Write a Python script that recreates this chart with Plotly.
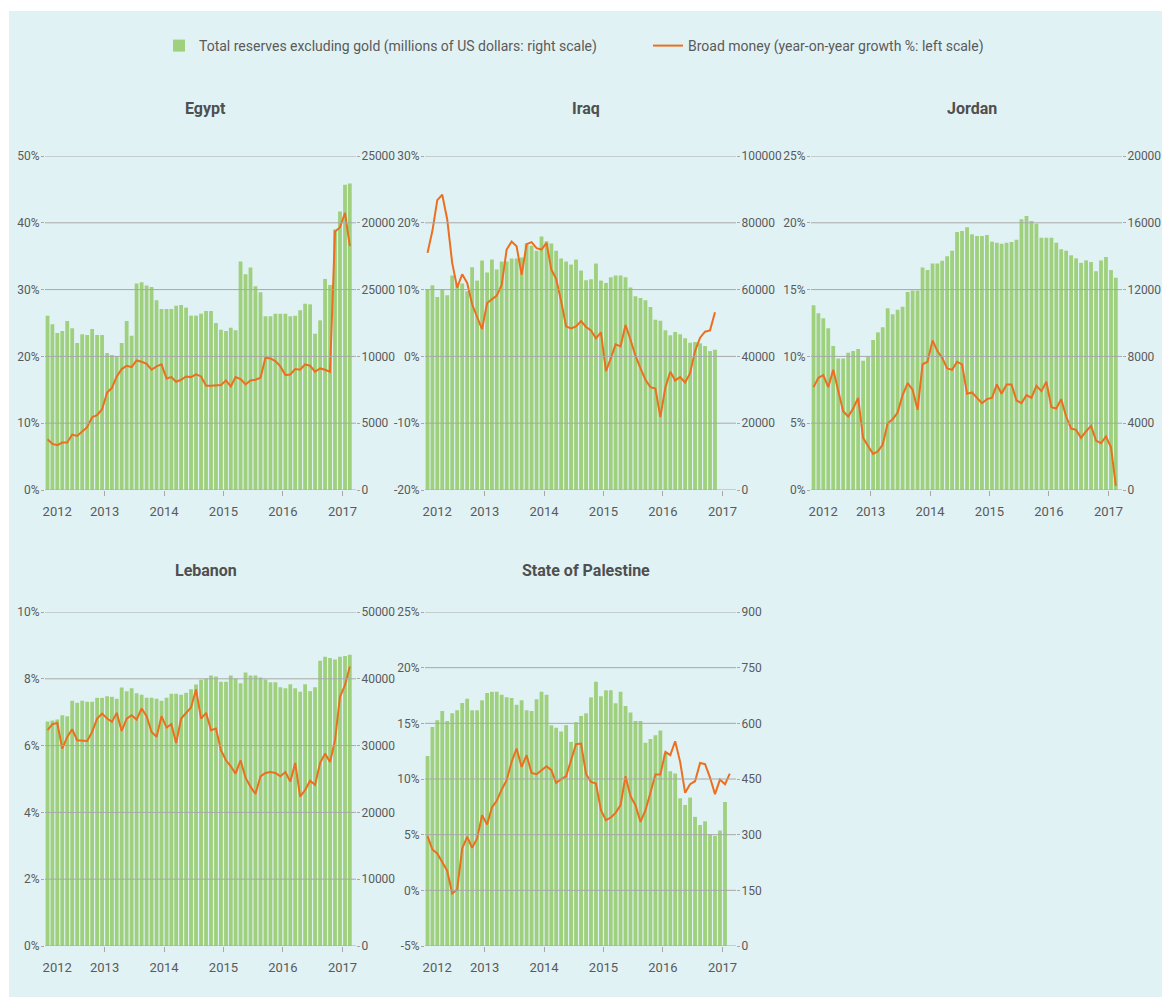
import pandas as pd
import plotly.graph_objects as go

# ---------------- data ----------------
months = [d.strftime("%Y-%m-%d") for d in pd.date_range("2012-01-01", periods=62, freq="MS")]
year_labels = ["2012", "2013", "2014", "2015", "2016", "2017"]

egypt_reserves = [13050, 12400, 11750, 11900, 12650, 12100, 11000, 11650, 11600, 12050, 11600, 11600,
                  10250, 10100, 10000, 11000, 12650, 11550, 15450, 15550, 15300, 15200, 14200, 13550,
                  13550, 13550, 13800, 13850, 13650, 13050, 13050, 13200, 13400, 13400, 12500, 12000,
                  11900, 12150, 11950, 17100, 16150, 16650, 15250, 14800, 13000, 13000, 13200, 13200,
                  13200, 13000, 13050, 13450, 13950, 13900, 11700, 12700, 15800, 15350, 19500, 20850,
                  22850, 22950]
egypt_money = [7.6, 6.9, 6.7, 7.1, 7.1, 8.3, 8.1, 8.7, 9.4, 10.9, 11.2, 12.1,
               14.6, 15.3, 17.0, 18.1, 18.6, 18.4, 19.4, 19.2, 18.9, 18.0, 18.5, 18.8,
               16.7, 16.9, 16.2, 16.5, 17.0, 16.9, 17.3, 17.0, 15.6, 15.6, 15.6, 15.7,
               16.4, 15.5, 16.9, 16.6, 15.8, 16.4, 16.5, 16.8, 19.8, 19.7, 19.3, 18.5,
               17.2, 17.3, 18.1, 18.0, 18.8, 18.6, 17.7, 18.2, 18.0, 17.7, 38.7, 39.3,
               41.5, 36.5]

iraq_reserves = [60100, 61300, 57800, 60000, 58300, 64200, 62000, 61800, 59500, 66700, 62700, 68700,
                 65100, 69000, 66000, 68400, 68400, 69300, 69300, 69600, 73800, 73100, 71600, 75900,
                 74500, 73800, 71600, 69300, 68400, 67500, 69000, 65700, 62800, 63100, 67800, 62700,
                 62000, 63700, 64200, 64200, 63700, 60600, 58000, 57500, 56800, 54800, 51000, 50700,
                 47800, 46300, 47300, 46600, 45400, 44100, 44300, 43900, 43100, 41600, 42000]
iraq_money = [15.5, 18.8, 23.4, 24.2, 20.5, 14.0, 10.3, 12.3, 11.0, 7.8, 5.9, 4.1,
              8.0, 8.6, 9.1, 10.7, 16.0, 17.2, 16.5, 12.2, 16.8, 17.1, 16.2, 16.0,
              17.0, 13.0, 11.6, 8.3, 4.5, 4.2, 4.5, 5.3, 4.4, 3.9, 2.7, 3.6,
              -2.2, -0.3, 1.8, 1.5, 4.7, 2.5, 0.1, -1.8, -3.5, -4.6, -4.8, -9.1,
              -4.6, -2.3, -3.6, -3.1, -3.9, -2.5, 0.8, 2.8, 3.7, 3.9, 6.6]

jordan_reserves = [11060, 10580, 10280, 9680, 8620, 7880, 7880, 8220, 8320, 8440, 7740, 7980,
                   8980, 9440, 9740, 10880, 10520, 10800, 10980, 11860, 11940, 11940, 13330, 13170,
                   13570, 13570, 13730, 13990, 14330, 15450, 15510, 15730, 15310, 15210, 15210, 15270,
                   14870, 14810, 14750, 14810, 14850, 14990, 16210, 16410, 16110, 15950, 15110, 15110,
                   15110, 14810, 14410, 14330, 14050, 13870, 13600, 13750, 13650, 13100, 13750, 13950,
                   13170, 12710]
jordan_money = [7.7, 8.4, 8.6, 7.7, 9.0, 7.5, 5.9, 5.5, 6.1, 6.9, 3.9, 3.3,
                2.7, 2.9, 3.4, 5.0, 5.3, 5.8, 7.1, 8.0, 7.5, 6.0, 9.4, 9.6,
                11.2, 10.4, 9.9, 9.1, 9.0, 9.6, 9.4, 7.2, 7.3, 6.9, 6.5, 6.8,
                6.9, 7.9, 7.2, 7.9, 7.9, 6.7, 6.5, 7.1, 6.9, 7.8, 7.4, 8.1,
                6.2, 6.1, 6.8, 5.5, 4.6, 4.5, 3.9, 4.4, 4.8, 3.7, 3.5, 4.0,
                3.2, 0.3]

lebanon_reserves = [33600, 33750, 33900, 34550, 34400, 36700, 36400, 36700, 36550, 36550, 37150, 37150,
                    37400, 37300, 37000, 38700, 38150, 38600, 37850, 37600, 37150, 37150, 37000, 36700,
                    37150, 37750, 37750, 37600, 37900, 38450, 39150, 39850, 40050, 40500, 40350, 39550,
                    39550, 40500, 40050, 39350, 40950, 40500, 40500, 40200, 39900, 39500, 39500, 38750,
                    38600, 39200, 38600, 38050, 39200, 38150, 38750, 42700, 43300, 43100, 42900, 43300,
                    43400, 43600]
lebanon_money = [6.46, 6.64, 6.68, 5.91, 6.26, 6.49, 6.16, 6.16, 6.14, 6.41, 6.81, 6.96,
                 6.81, 6.71, 6.98, 6.44, 6.81, 6.91, 6.78, 7.11, 6.88, 6.41, 6.26, 6.88,
                 6.54, 6.64, 6.08, 6.81, 6.96, 7.14, 7.68, 6.81, 6.98, 6.46, 6.51, 5.86,
                 5.56, 5.38, 5.16, 5.56, 5.04, 4.77, 4.55, 5.08, 5.18, 5.21, 5.18, 5.08,
                 5.21, 4.92, 5.48, 4.47, 4.67, 4.95, 4.82, 5.48, 5.76, 5.51, 6.16, 7.46,
                 7.81, 8.37]

palestine_reserves = [512, 590, 608, 633, 606, 627, 635, 655, 666, 635, 635, 662,
                      682, 685, 685, 677, 670, 668, 650, 662, 635, 633, 665, 685,
                      677, 595, 588, 578, 595, 550, 603, 620, 627, 670, 712, 673,
                      689, 689, 654, 685, 647, 629, 606, 606, 548, 558, 568, 581,
                      519, 471, 465, 398, 380, 400, 348, 326, 336, 301, 297, 311,
                      388]
palestine_money = [4.87, 3.67, 3.31, 2.56, 1.76, -0.28, 0.08, 3.76, 4.81, 3.82, 4.66, 6.75,
                   5.92, 7.44, 8.04, 9.06, 9.89, 11.54, 12.74, 11.09, 12.14, 10.55, 10.43, 10.79,
                   11.15, 10.79, 9.65, 9.98, 10.25, 11.69, 13.12, 13.18, 10.43, 9.74, 9.59, 7.20,
                   6.30, 6.54, 6.96, 7.65, 10.25, 8.46, 7.65, 6.15, 7.20, 8.76, 10.40, 10.40,
                   12.44, 12.14, 13.39, 11.54, 8.76, 9.53, 9.80, 11.45, 11.33, 10.13, 8.64, 9.95,
                   9.53, 10.49]

# ---------------- style / layout ----------------
W, H = 1162, 997
BG = "#e1f2f5"
GREEN = "#9fd07d"
ORANGE = "#ec6f20"
GRID = "#a8a8a8"
TXT = "#5a5a5a"
FONT = "Roboto, Liberation Sans, sans-serif"


def px_x(v):
    return v / W


def px_y(v):
    return 1 - v / H


ROW1 = (156, 490)
ROW2 = (612, 946)
COL1 = (45, 356)
COL2 = (425, 736)
COL3 = (811, 1122)

panels = [
    dict(name="Egypt", res=egypt_reserves, mon=egypt_money,
         lrange=[0, 50], ltick=[0, 10, 20, 30, 40, 50],
         rrange=[0, 25000], rtick=[0, 5000, 10000, 15000, 20000, 25000],
         rtext=["0", "5000", "10000", "25000", "20000", "25000"],
         col=COL1, row=ROW1, title_y=108),
    dict(name="Iraq", res=iraq_reserves, mon=iraq_money,
         lrange=[-20, 30], ltick=[-20, -10, 0, 10, 20, 30],
         rrange=[0, 100000], rtick=[0, 20000, 40000, 60000, 80000, 100000], rtext=None,
         col=COL2, row=ROW1, title_y=108),
    dict(name="Jordan", res=jordan_reserves, mon=jordan_money,
         lrange=[0, 25], ltick=[0, 5, 10, 15, 20, 25],
         rrange=[0, 20000], rtick=[0, 4000, 8000, 12000, 16000, 20000], rtext=None,
         col=COL3, row=ROW1, title_y=108),
    dict(name="Lebanon", res=lebanon_reserves, mon=lebanon_money,
         lrange=[0, 10], ltick=[0, 2, 4, 6, 8, 10],
         rrange=[0, 50000], rtick=[0, 10000, 20000, 30000, 40000, 50000], rtext=None,
         col=COL1, row=ROW2, title_y=570),
    dict(name="State of Palestine", res=palestine_reserves, mon=palestine_money,
         lrange=[-5, 25], ltick=[-5, 0, 5, 10, 15, 20, 25],
         rrange=[0, 900], rtick=[0, 150, 300, 450, 600, 750, 900], rtext=None,
         col=COL2, row=ROW2, title_y=570),
]

x_range = ["2012-01-01", "2017-03-25"]
year_ticks = ["2012-03-16", "2013-01-01", "2014-01-01", "2015-01-01", "2016-01-01", "2017-01-01"]
year_bounds = ["2013-01-01", "2014-01-01", "2015-01-01", "2016-01-01", "2017-01-01"]

fig = go.Figure()
shapes = [dict(type="rect", xref="paper", yref="paper", x0=px_x(9), x1=1, y0=0, y1=px_y(11),
               fillcolor=BG, line=dict(width=0), layer="below")]
annotations = []
tickfont = dict(family=FONT, size=12, color=TXT)

for k, p in enumerate(panels, start=1):
    xa = "x" if k == 1 else f"x{k}"
    yb = "y" if k == 1 else f"y{2 * k - 1}"   # reserves (right scale)
    yl = f"y{2 * k}"                          # broad money (left scale)
    l, r = p["col"]
    t, b = p["row"]
    fig.add_trace(go.Bar(
        x=months[:len(p["res"])], y=p["res"], xaxis=xa, yaxis=yb,
        xperiod="M1", xperiodalignment="middle",
        marker=dict(color=GREEN, line=dict(width=0)),
        name="Total reserves excluding gold (millions of US dollars: right scale)",
        legendgroup="res", showlegend=(k == 1)))
    fig.add_trace(go.Scatter(
        x=months[:len(p["mon"])], y=p["mon"], xaxis=xa, yaxis=yl,
        xperiod="M1", xperiodalignment="middle", mode="lines",
        line=dict(color=ORANGE, width=2),
        name="Broad money (year-on-year growth %: left scale)",
        legendgroup="mon", showlegend=(k == 1)))

    xkey = "xaxis" if k == 1 else f"xaxis{k}"
    ybkey = "yaxis" if k == 1 else f"yaxis{2 * k - 1}"
    ylkey = f"yaxis{2 * k}"
    dom_y = [px_y(b), px_y(t)]
    fig.layout[xkey] = dict(
        type="date", domain=[px_x(l), px_x(r)], anchor=yb, range=x_range,
        tickmode="array", tickvals=year_ticks, ticktext=year_labels, ticks="",
        ticklabelstandoff=12, tickfont=dict(family=FONT, size=13, color=TXT),
        showgrid=False, zeroline=False, showline=False, fixedrange=True, automargin=False,
        minor=dict(tickmode="array", tickvals=year_bounds, ticks="outside", ticklen=5,
                   tickcolor=GRID, tickwidth=1, showgrid=False))
    fig.layout[ybkey] = dict(
        domain=dom_y, anchor=xa, side="right", range=p["rrange"],
        tickmode="array", tickvals=p["rtick"],
        ticktext=p["rtext"] if p["rtext"] else [str(v) for v in p["rtick"]],
        ticks="outside", ticklen=3, tickcolor=GRID, tickfont=tickfont, ticklabelstandoff=-1,
        showgrid=False, zeroline=False, showline=False, fixedrange=True, automargin=False)
    fig.layout[ylkey] = dict(
        domain=dom_y, anchor=xa, side="left", overlaying=yb, range=p["lrange"],
        tickmode="array", tickvals=p["ltick"], ticktext=[f"{v}%" for v in p["ltick"]],
        ticks="outside", ticklen=3, tickcolor=GRID, tickfont=tickfont, ticklabelstandoff=-1,
        showgrid=False, zeroline=False, showline=False, fixedrange=True, automargin=False)

    # grid lines drawn above the bars, at the right-scale tick values
    for v in p["rtick"]:
        shapes.append(dict(type="line", xref=f"{xa} domain", x0=0, x1=1, yref=yb, y0=v, y1=v,
                           line=dict(color=GRID, width=1), layer="above"))

    annotations.append(dict(
        text=f"<b>{p['name']}</b>", xref="paper", x=px_x((l + r) / 2 + 5), xanchor="center",
        yref="paper", y=px_y(p["title_y"]), yanchor="middle", showarrow=False,
        font=dict(family=FONT, size=16, color="#4f4f4f")))

fig.update_layout(
    width=W, height=H, margin=dict(l=0, r=0, t=0, b=0, pad=0, autoexpand=False),
    paper_bgcolor="white", plot_bgcolor="rgba(0,0,0,0)",
    bargap=0.21, shapes=shapes, annotations=annotations,
    font=dict(family=FONT, color=TXT),
    legend=dict(orientation="h", x=px_x(159), xanchor="left", y=px_y(46), yanchor="middle",
                bgcolor="rgba(0,0,0,0)", font=dict(family=FONT, size=14, color=TXT),
                entrywidth=444, entrywidthmode="pixels", traceorder="normal"),
    showlegend=True,
)

fig.write_html("out.html", config={"displayModeBar": False},
               post_script="document.body.style.margin='0';")
